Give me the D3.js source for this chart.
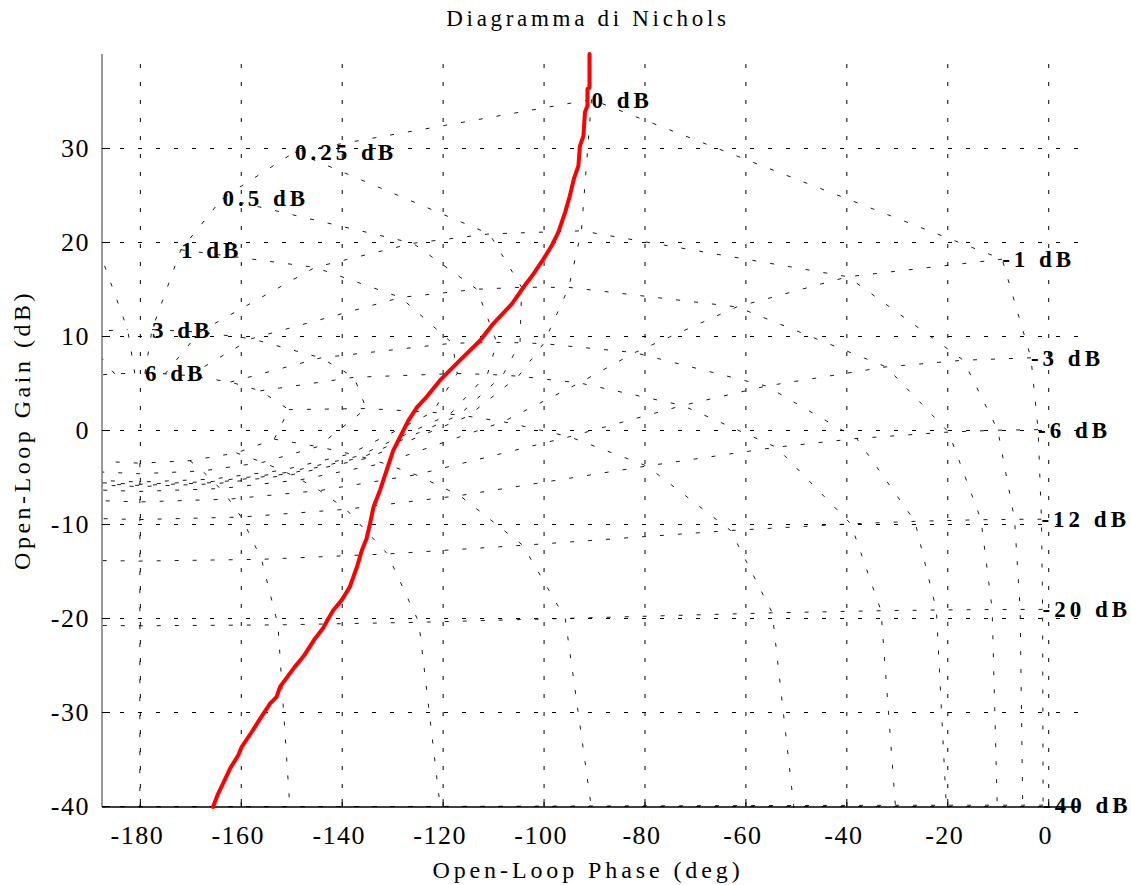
<!DOCTYPE html>
<html>
<head>
<meta charset="utf-8">
<script src="https://cdn.jsdelivr.net/npm/d3@7/dist/d3.min.js"></script>
<style>
  body { margin: 0; background: #fff; }
  svg { display: block; }
  text { font-family: "Liberation Serif", "Times New Roman", serif; fill: #000; }
</style>
</head>
<body>
<svg id="chart" width="1131" height="885"></svg>
<script>
// Axis ticks
const phaseTicks = [-180, -160, -140, -120, -100, -80, -60, -40, -20, 0];
const gainTicks = [-40, -30, -20, -10, 0, 10, 20, 30];

// Nichols grid mesh: closed-loop gains (dB) and closed-loop phases (deg)
const closedLoopGains = [6, 3, 1, 0.5, 0.25, 0, -1, -3, -6, -12, -20, -40, -60];
const closedLoopPhases = [-1, -5, -10, -20, -30, -50, -90, -120, -150, -180,
                          -210, -240, -270, -310, -330, -340, -350, -355, -359];
// Gain contours that carry a label, and the closed-loop phase where it sits
const labelledGains = [0, 0.25, 0.5, 1, 3, 6, -1, -3, -6, -12, -20, -40];
const labelPhase = -1;

// Open-loop frequency response: phase (deg) and gain (dB)
const responsePhase = [-90.9, -90.9, -91.3, -91.3, -91.8, -92.1, -92.8, -93.1, -94.0, -94.8,
  -95.7, -97.1, -98.4, -100.0, -102.0, -103.7, -106.3, -110.0, -112.6, -116.6,
  -120.5, -123.2, -125.1, -126.8, -128.1, -129.8, -131.1, -132.4, -133.7, -134.4,
  -135.1, -136.0, -137.0, -138.4, -140.0, -141.7, -142.7, -143.7, -145.3, -147.6,
  -149.3, -152.2, -152.9, -154.2, -156.5, -157.8, -159.8, -160.5, -162.1, -163.5,
  -164.5, -165.5];
const responseGain = [40.0, 36.4, 36.3, 34.5, 33.8, 31.3, 30.2, 28.1, 26.7, 24.9,
  23.2, 21.0, 19.6, 18.2, 16.6, 15.4, 13.4, 11.3, 9.5, 7.4,
  5.3, 3.5, 2.4, 1.0, -0.4, -2.2, -4.3, -6.4, -8.2, -10.0,
  -11.6, -12.8, -14.6, -16.7, -18.1, -19.2, -20.1, -21.1, -22.2, -24.1,
  -25.2, -27.3, -28.4, -29.1, -31.0, -32.1, -33.7, -34.6, -36.0, -37.6,
  -38.7, -40.1];

const svg = d3.select("#chart");
const plot = { left: 102, right: 1080, top: 54, bottom: 806 };

const x = d3.scaleLinear().domain([-187.5, 6.3]).range([plot.left, plot.right]);
const y = d3.scaleLinear().domain([-40, 40]).range([plot.bottom, plot.top]);

const dotted = "4,14";

svg.append("defs").append("clipPath").attr("id", "plotClip")
  .append("rect")
  .attr("x", plot.left).attr("y", plot.top)
  .attr("width", plot.right - plot.left)
  .attr("height", plot.bottom - plot.top + 2);

// Rectangular grid
const gridX = svg.append("g")
  .attr("transform", `translate(0,${plot.bottom})`)
  .call(d3.axisBottom(x).tickValues(phaseTicks)
    .tickSize(-(plot.bottom - plot.top)).tickFormat(""));
gridX.select(".domain").remove();
gridX.selectAll("line").attr("stroke", "#000").attr("stroke-width", 1)
  .attr("stroke-dasharray", dotted);

const gridY = svg.append("g")
  .attr("transform", `translate(${plot.left},0)`)
  .call(d3.axisLeft(y).tickValues(gainTicks)
    .tickSize(-(plot.right - plot.left)).tickFormat(""));
gridY.select(".domain").remove();
gridY.selectAll("line").attr("stroke", "#000").attr("stroke-width", 1)
  .attr("stroke-dasharray", dotted);

// Open-loop point L = T / (1 - T) for closed-loop T = M e^{j psi}
const rad = Math.PI / 180;
function meshPoint(mDb, psiDeg) {
  const M = Math.pow(10, mDb / 20), a = psiDeg * rad;
  const tr = M * Math.cos(a), ti = M * Math.sin(a);
  const dr = 1 - tr, di = -ti;
  const den = dr * dr + di * di;
  const lr = (tr * dr + ti * di) / den, li = (ti * dr - tr * di) / den;
  let p = Math.atan2(li, lr) / rad;
  if (p > 0) p -= 360;
  return [p, 20 * Math.log10(Math.hypot(lr, li))];
}

const meshLine = d3.line().x(d => x(d[0])).y(d => y(d[1]));
const mesh = svg.append("g").attr("clip-path", "url(#plotClip)")
  .attr("fill", "none").attr("stroke", "#000").attr("stroke-width", 0.9)
  .attr("stroke-dasharray", dotted);

// Constant closed-loop gain contours
mesh.selectAll("path.gain").data(closedLoopGains).join("path")
  .attr("class", "gain")
  .attr("d", m => meshLine(closedLoopPhases.map(p => meshPoint(m, p))));
// Constant closed-loop phase contours
mesh.selectAll("path.phase").data(closedLoopPhases).join("path")
  .attr("class", "phase")
  .attr("d", p => meshLine(closedLoopGains.map(m => meshPoint(m, p))));

// Axes
svg.append("line").attr("x1", plot.left).attr("x2", plot.left)
  .attr("y1", plot.top).attr("y2", plot.bottom + 1)
  .attr("stroke", "#777").attr("stroke-width", 1.5);
svg.append("line").attr("x1", plot.left).attr("x2", plot.right)
  .attr("y1", plot.bottom + 1).attr("y2", plot.bottom + 1)
  .attr("stroke", "#000").attr("stroke-width", 1.5);

const axX = svg.append("g").attr("transform", `translate(0,${plot.bottom + 1})`)
  .call(d3.axisBottom(x).tickValues(phaseTicks).tickFormat(d => String(d))
    .tickSizeInner(-8).tickSizeOuter(0).tickPadding(19));
axX.select(".domain").remove();
axX.selectAll("line").attr("stroke", "#000");
axX.selectAll("text").attr("dx", -3).style("font-family", "Liberation Serif")
  .style("font-size", "26px").style("letter-spacing", "1.5px");

const axY = svg.append("g").attr("transform", `translate(${plot.left},0)`)
  .call(d3.axisLeft(y).tickValues(gainTicks).tickFormat(d => String(d))
    .tickSizeInner(-8).tickSizeOuter(0).tickPadding(12));
axY.select(".domain").remove();
axY.selectAll("line").attr("stroke", "#000");
axY.selectAll("text").style("font-family", "Liberation Serif")
  .style("font-size", "26px").style("letter-spacing", "1.5px");

// Contour labels, placed on each gain contour at the labelled closed-loop phase
svg.append("g").selectAll("text").data(labelledGains).join("text")
  .each(function (m) {
    const [p, g] = meshPoint(m, labelPhase);
    d3.select(this).attr("x", x(p)).attr("y", y(g));
  })
  .attr("dy", "0.35em")
  .style("font-size", "23px").style("font-weight", "bold").style("letter-spacing", "4px")
  .text(m => `${m} dB`);

// Open-loop response
svg.append("path")
  .datum(d3.zip(responsePhase, responseGain))
  .attr("fill", "none").attr("stroke", "#ff0000").attr("stroke-width", 4)
  .attr("stroke-linejoin", "round").attr("stroke-linecap", "round")
  .attr("d", d3.line().x(d => x(d[0])).y(d => y(d[1])));

// Titles
svg.append("text").attr("x", 588).attr("y", 26).attr("text-anchor", "middle")
  .style("font-size", "23px").style("letter-spacing", "3.7px").text("Diagramma di Nichols");
svg.append("text").attr("x", 588).attr("y", 878).attr("text-anchor", "middle")
  .style("font-size", "24px").style("letter-spacing", "3.9px").text("Open-Loop Phase (deg)");
svg.append("text").attr("transform", "translate(30,430) rotate(-90)").attr("text-anchor", "middle")
  .style("font-size", "24px").style("letter-spacing", "3.5px").text("Open-Loop Gain (dB)");
</script>
</body>
</html>
